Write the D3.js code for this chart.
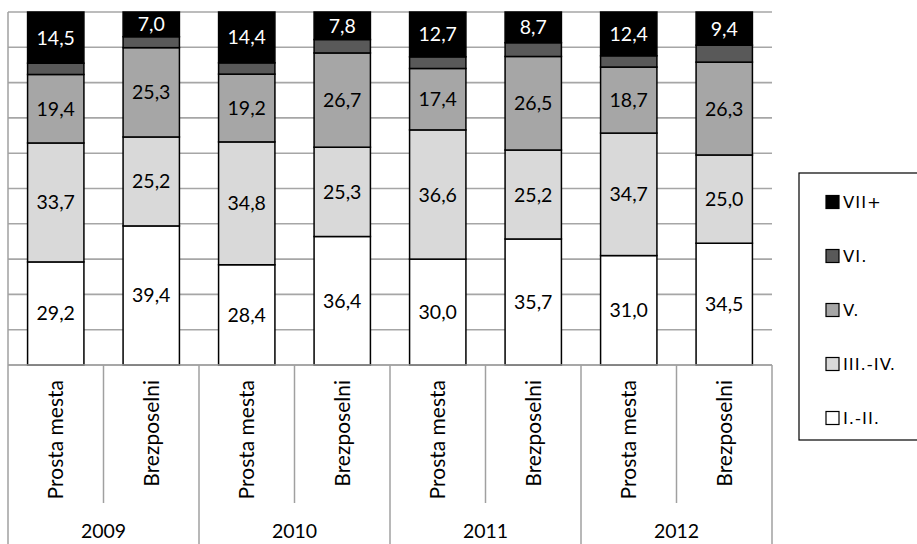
<!DOCTYPE html>
<html>
<head>
<meta charset="utf-8">
<script src="https://cdn.jsdelivr.net/npm/d3@7"></script>
<style>
  html, body { margin: 0; padding: 0; background: #fff; }
  svg { display: block; }
</style>
</head>
<body>
<svg id="chart" width="917" height="544"></svg>
<script>
// Education structure: vacancies vs. unemployed, by year (shares in %)
const years = ["2009", "2010", "2011", "2012"];
const groups = ["Prosta mesta", "Brezposelni"];
const seriesNames = ["I.-II.", "III.-IV.", "V.", "VI.", "VII+"];
const seriesColors = ["#ffffff", "#d9d9d9", "#a6a6a6", "#595959", "#000000"];

const valI_II  = [29.2, 39.4, 28.4, 36.4, 30.0, 35.7, 31.0, 34.5];
const valIII_IV = [33.7, 25.2, 34.8, 25.3, 36.6, 25.2, 34.7, 25.0];
const valV     = [19.4, 25.3, 19.2, 26.7, 17.4, 26.5, 18.7, 26.3];
const valVI    = [3.2, 3.1, 3.2, 3.8, 3.3, 3.9, 3.2, 4.8];
const valVII   = [14.5, 7.0, 14.4, 7.8, 12.7, 8.7, 12.4, 9.4];
const yTicks = [0, 10, 20, 30, 40, 50, 60, 70, 80, 90, 100];

const seriesValues = [valI_II, valIII_IV, valV, valVI, valVII];
const labelled = [true, true, true, false, true];

// one row per bar
const rows = [];
years.forEach((yr, i) => groups.forEach((g, j) => {
  const k = i * groups.length + j;
  const r = { key: yr + "|" + g, year: yr, group: g };
  seriesNames.forEach((s, si) => r[s] = seriesValues[si][k]);
  rows.push(r);
}));

const svg = d3.select("#chart");
const plotL = 8, plotR = 772, plotT = 12, plotB = 365;
const font = "Lato, 'Open Sans', sans-serif";

const x = d3.scaleBand().domain(rows.map(d => d.key)).range([plotL, plotR]).paddingInner(0.41).paddingOuter(0.205);
const y = d3.scaleLinear().domain([0, 100]).range([plotB, plotT]);

// grid
svg.append("g").selectAll("line").data(yTicks).join("line")
  .attr("x1", plotL).attr("x2", plotR)
  .attr("y1", d => y(d)).attr("y2", d => y(d))
  .attr("stroke", "#a6a6a6").attr("stroke-width", 1.6);

// stacked bars
const stack = d3.stack().keys(seriesNames)(rows);
const layers = svg.append("g").selectAll("g").data(stack).join("g")
  .attr("fill", (d, i) => seriesColors[i]);
layers.selectAll("rect").data(d => d).join("rect")
  .attr("x", d => x(d.data.key))
  .attr("width", x.bandwidth())
  .attr("y", d => y(d[1]))
  .attr("height", d => y(d[0]) - y(d[1]))
  .attr("stroke", "#000").attr("stroke-width", 1.5);

// value labels
stack.forEach((layer, si) => {
  if (!labelled[si]) return;
  svg.append("g").selectAll("text").data(layer).join("text")
    .attr("x", d => x(d.data.key) + x.bandwidth() / 2)
    .attr("y", d => (y(d[0]) + y(d[1])) / 2)
    .attr("dy", "0.36em")
    .attr("text-anchor", "middle")
    .attr("font-family", font).attr("font-size", 19.5)
    .attr("fill", si === 4 ? "#fff" : "#000")
    .text(d => d.data[seriesNames[si]].toFixed(1).replace(".", ","));
});

// category table under the plot
const axisCol = "#a0a0a0";
const step = x.step();
const tbl = svg.append("g").attr("stroke", axisCol).attr("stroke-width", 1.5);
tbl.append("line").attr("x1", plotL).attr("x2", plotR).attr("y1", plotB).attr("y2", plotB);
tbl.append("line").attr("x1", plotL).attr("x2", plotL).attr("y1", plotT).attr("y2", 544);
years.forEach((yr, i) => {
  const gx = plotL + (i + 1) * step * groups.length;
  tbl.append("line").attr("x1", gx).attr("x2", gx).attr("y1", plotB).attr("y2", 544);
  const mx = plotL + (i * groups.length + 1) * step;
  tbl.append("line").attr("x1", mx).attr("x2", mx).attr("y1", plotB).attr("y2", 503);
});

svg.append("g").selectAll("text").data(rows).join("text")
  .attr("transform", d => `translate(${x(d.key) + x.bandwidth() / 2 + 7.5},380) rotate(-90)`)
  .attr("text-anchor", "end")
  .attr("font-family", font).attr("font-size", 21)
  .text(d => d.group);

svg.append("g").selectAll("text").data(years).join("text")
  .attr("x", (d, i) => plotL + (i + 0.5) * step * groups.length)
  .attr("y", 538)
  .attr("text-anchor", "middle")
  .attr("font-family", font).attr("font-size", 19.5)
  .text(d => d);

// legend
const lg = svg.append("g");
lg.append("rect").attr("x", 799).attr("y", 173).attr("width", 130).attr("height", 267)
  .attr("fill", "#fff").attr("stroke", "#000").attr("stroke-width", 1.2);
const legendOrder = seriesNames.map((s, i) => i).reverse();
const item = lg.selectAll("g").data(legendOrder).join("g")
  .attr("transform", (d, i) => `translate(826,${202 + i * 54})`);
item.append("rect").attr("x", 0).attr("y", -6.5).attr("width", 13).attr("height", 13)
  .attr("fill", d => seriesColors[d]).attr("stroke", "#000").attr("stroke-width", 1.2);
item.append("text").attr("x", 17).attr("dy", "0.36em")
  .attr("font-family", "'DejaVu Sans', sans-serif").attr("font-size", 16.5)
  .attr("letter-spacing", 1)
  .text(d => seriesNames[d]);
</script>
</body>
</html>
